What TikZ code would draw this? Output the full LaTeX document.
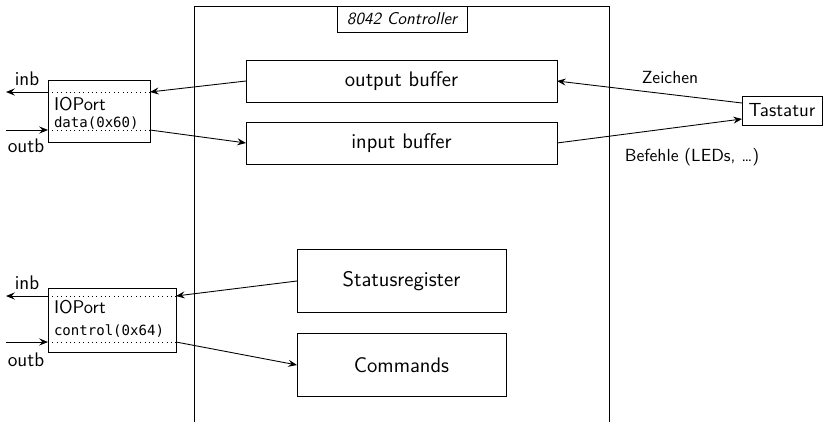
\documentclass[tikz,border=0pt]{standalone}
\usepackage{fontspec}
\setmonofont{DejaVu Sans Mono}
\usetikzlibrary{arrows.meta,positioning}
\begin{document}
\begin{tikzpicture}[x=0.02cm,y=-0.02cm,
  font=\sffamily,
  every node/.style={inner sep=0pt, outer sep=0pt},
  unit/.style={draw, line width=0.5pt, minimum width=6.22cm, minimum height=0.84cm,
               font=\sffamily\fontsize{12}{14}\selectfont},
  bigunit/.style={draw, line width=0.5pt, minimum width=4.18cm, minimum height=1.26cm,
                  font=\sffamily\fontsize{12}{14}\selectfont},
  portbox/.style={draw, line width=0.5pt},
  sep/.style={dotted, line width=0.5pt},
  flow/.style={line width=0.5pt, -{Stealth[length=5pt,width=4pt,inset=1.8pt]}},
  iolabel/.style={font=\sffamily\fontsize{11.2}{13}\selectfont},
  porttitle/.style={anchor=west, font=\sffamily\fontsize{10.5}{12}\selectfont},
  portlabel/.style={anchor=west, font=\ttfamily\fontsize{8}{10}\selectfont}
]
\useasboundingbox (0,0) rectangle (827,422);

% the 8042 controller frame, open towards the bottom
\draw[line width=0.45pt] (194,422) -- (194,6) -- (609,6) -- (609,422);
\node[draw, line width=0.5pt, minimum width=2.6cm, minimum height=0.52cm,
      font=\sffamily\itshape\fontsize{9.7}{12}\selectfont] (title) at (402,19) {8042 Controller};

% internal units
\node[unit] (outbuf) at (401.5,81) {output buffer};
\node[unit] (inbuf) at (401.5,143) {input buffer};
\node[bigunit] (status) at (401.5,281) {Statusregister};
\node[bigunit] (cmds) at (401.5,365) {Commands};

% keyboard
\node[draw, line width=0.5pt, minimum width=1.6cm, minimum height=0.58cm,
      font=\sffamily\fontsize{10.8}{13}\selectfont] (tast) at (782,110.5) {Tastatur};

% data port 0x60
\node[portbox, minimum width=2.04cm, minimum height=1.24cm] (dport) at (99,111) {};
\coordinate (dtop) at (48,92);
\coordinate (dbot) at (48,130);
\draw[sep] (dtop) -- (dport.east |- dtop);
\draw[sep] (dbot) -- (dport.east |- dbot);
\node[porttitle] (dio) at (54,104) {IOPort};
\node[portlabel] (dname) at (54,123.5) {data(0x60)};

% control port 0x64
\node[portbox, minimum width=2.56cm, minimum height=1.28cm] (cport) at (112,320) {};
\coordinate (ctop) at (48,296);
\coordinate (cbot) at (48,342);
\draw[sep] (ctop) -- (cport.east |- ctop);
\draw[sep] (cbot) -- (cport.east |- cbot);
\node[porttitle] (cio) at (54,307) {IOPort};
\node[portlabel] (cname) at (54,331) {control(0x64)};

% host side of the ports
\coordinate (dinb) at (6,92);
\coordinate (doutb) at (6,130);
\coordinate (cinb) at (6,296);
\coordinate (coutb) at (6,342);
\draw[flow] (dtop) -- (dinb);
\draw[flow] (doutb) -- (dbot);
\draw[flow] (ctop) -- (cinb);
\draw[flow] (coutb) -- (cbot);
\node[iolabel] (linb1) at (27,79) {inb};
\node[iolabel] (loutb1) at (26,146) {outb};
\node[iolabel] (linb2) at (27,283) {inb};
\node[iolabel] (loutb2) at (26,360) {outb};

% ports to controller
\draw[flow] (outbuf.west) -- (dport.east |- dtop);
\draw[flow] (dport.east |- dbot) -- (inbuf.west);
\draw[flow] (status.west) -- (cport.east |- ctop);
\draw[flow] (cport.east |- cbot) -- (cmds.west);

% keyboard traffic
\draw[flow] ([yshift=0.15cm]tast.west) -- (outbuf.east);
\draw[flow] (inbuf.east) -- ([yshift=-0.17cm]tast.west);
\node (lz) at (670,78) {Zeichen};
\node (lb) at (692,157) {Befehle (LEDs, \ldots)};
\end{tikzpicture}
\end{document}
